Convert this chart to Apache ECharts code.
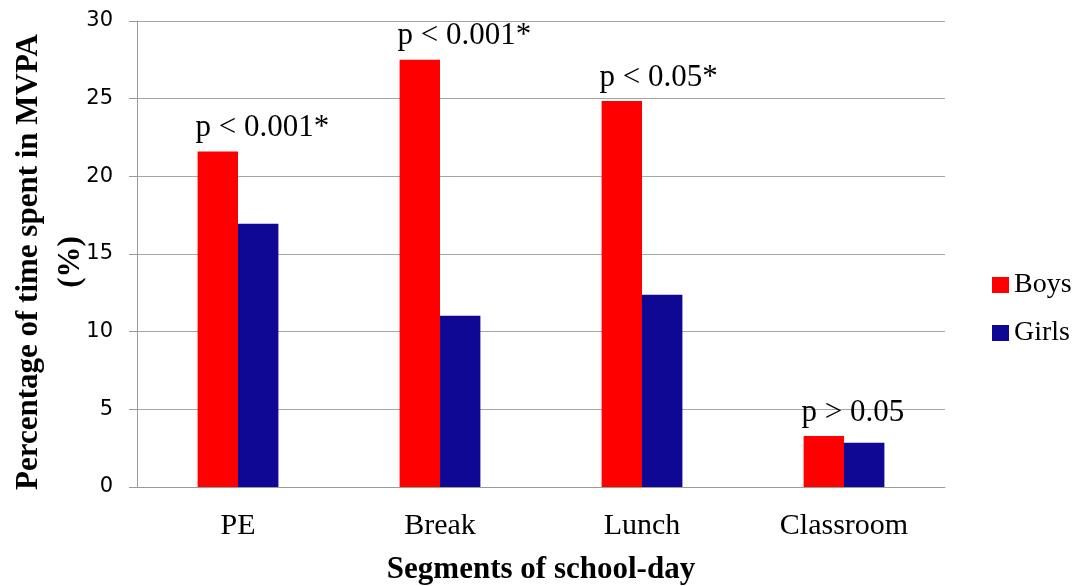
<!DOCTYPE html>
<html>
<head>
<meta charset="utf-8">
<script src="https://cdn.jsdelivr.net/npm/echarts@6/dist/echarts.min.js"></script>
<style>
html,body{margin:0;padding:0;background:#fff;}
#chart{width:1078px;height:586px;}
</style>
</head>
<body>
<div id="chart"></div>
<script>
const categories = ['PE', 'Break', 'Lunch', 'Classroom'];
const boys = [21.6, 27.5, 24.85, 3.28];
const girls = [16.95, 11.03, 12.38, 2.85];
const annotations = ['p < 0.001*', 'p < 0.001*', 'p < 0.05*', 'p > 0.05'];
const yTicks = [0, 5, 10, 15, 20, 25, 30];
const seriesNames = ['Boys', 'Girls'];

const serif = '"Liberation Serif", "Times New Roman", serif';
const chart = echarts.init(document.getElementById('chart'));
chart.setOption({
  animation: false,
  backgroundColor: '#ffffff',
  grid: { left: 137, right: 133, top: 21, bottom: 99, containLabel: false, outerBoundsMode: 'none' },
  legend: {
    orient: 'vertical',
    left: 987,
    top: 266,
    itemWidth: 17,
    itemHeight: 16,
    itemGap: 20,
    icon: 'rect',
    textStyle: { fontFamily: serif, fontSize: 28, color: '#000' },
    data: seriesNames
  },
  xAxis: {
    type: 'category',
    data: categories,
    axisLine: { lineStyle: { color: '#9a9a9a', width: 1 } },
    axisTick: { show: false },
    axisLabel: { fontFamily: serif, fontSize: 30, color: '#000', margin: 24 },
    name: 'Segments of school-day',
    nameLocation: 'middle',
    nameGap: 67,
    nameMoveOverlap: false,
    nameTextStyle: { fontFamily: serif, fontSize: 31, fontWeight: 'bold', color: '#000' }
  },
  yAxis: {
    type: 'value',
    min: yTicks[0],
    max: yTicks[yTicks.length - 1],
    interval: yTicks[1] - yTicks[0],
    axisLine: { show: true, lineStyle: { color: '#9a9a9a', width: 1 } },
    axisTick: { show: true, length: 8, lineStyle: { color: '#9a9a9a' } },
    splitLine: { lineStyle: { color: '#a6a6a6', width: 1 } },
    axisLabel: { fontFamily: '"DejaVu Sans", sans-serif', fontSize: 21, color: '#000', margin: 24 },
    name: 'Percentage of time spent in MVPA\n(%)',
    nameLocation: 'middle',
    nameGap: 45,
    nameMoveOverlap: false,
    nameTextStyle: {
      fontFamily: serif, fontSize: 31, fontWeight: 'bold', color: '#000',
      lineHeight: 42, align: 'center', padding: [0, 16, 0, 0]
    }
  },
  series: [
    {
      name: seriesNames[0],
      type: 'bar',
      data: boys,
      barGap: '0%',
      barCategoryGap: '60%',
      itemStyle: { color: '#ff0000' },
      label: {
        show: true,
        position: [0, 0],
        align: 'left',
        verticalAlign: 'bottom',
        offset: [-2, -8],
        fontFamily: serif,
        fontSize: 31,
        color: '#000',
        formatter: function (p) { return annotations[p.dataIndex]; }
      }
    },
    {
      name: seriesNames[1],
      type: 'bar',
      data: girls,
      itemStyle: { color: '#0e0894' }
    }
  ]
});
</script>
</body>
</html>
